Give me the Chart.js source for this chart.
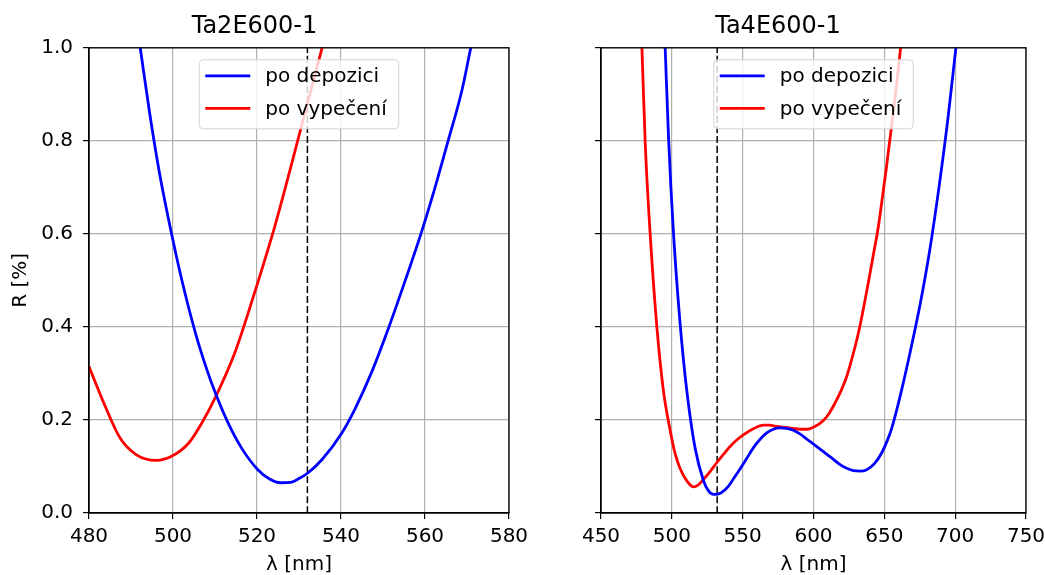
<!DOCTYPE html>
<html>
<head>
<meta charset="utf-8">
<script src="https://cdn.jsdelivr.net/npm/chart.js@4.4.0/dist/chart.umd.min.js"></script>
<style>
    html, body { margin: 0; padding: 0; background: #fff; overflow: hidden; }
    #left { position: absolute; left: 0; top: 0; width: 530px; height: 575px; }
    #right { position: absolute; left: 530px; top: 0; width: 515px; height: 575px; }
</style>
</head>
<body>
<div id="left"><canvas id="chart-ta2"></canvas></div>
<div id="right"><canvas id="chart-ta4"></canvas></div>
<script>

/**
 * Reflectance before / after baking
 *
 */

// Ta2E600-1
var ta2DepWl = [492.2, 494.4, 496.8, 499.9, 502.2, 505.4, 507.7, 510.0, 513.2, 516.3, 520.2, 523.0, 525.6, 528.0, 530.0, 532.1, 535.5, 540.2, 543.4, 547.4, 551.3, 555.3, 559.2, 562.4, 565.5, 568.7, 570.9];
var ta2DepR  = [1.0, 0.862, 0.730, 0.590, 0.497, 0.385, 0.318, 0.260, 0.192, 0.140, 0.093, 0.073, 0.065, 0.066, 0.074, 0.086, 0.115, 0.172, 0.225, 0.305, 0.397, 0.500, 0.605, 0.700, 0.800, 0.905, 1.0];
var ta2BakeWl = [480, 483.5, 487.4, 491.3, 496.0, 499.9, 503.8, 506.9, 510.0, 514.7, 519.4, 524.1, 528.0, 531.5, 535.5];
var ta2BakeR  = [0.315, 0.237, 0.161, 0.125, 0.113, 0.123, 0.151, 0.194, 0.247, 0.344, 0.473, 0.612, 0.742, 0.863, 1.0];

// Ta4E600-1
var ta4DepWl = [495.3, 497.7, 501.2, 505.9, 510.6, 516.4, 522.3, 526.0, 529.5, 533.0, 536.4, 540.0, 543.4, 548.0, 552.8, 557.5, 562.2, 567.0, 571.6, 576.3, 581.0, 585.7, 590.4, 595.6, 600.9, 607.0, 613.0, 618.8, 623.5, 628.2, 633.0, 637.6, 643.0, 648.1, 652.0, 655.2, 661.0, 668.1, 675.1, 682.1, 689.2, 695.1, 700.5];
var ta4DepR  = [1.0, 0.805, 0.600, 0.405, 0.262, 0.140, 0.070, 0.047, 0.040, 0.041, 0.047, 0.058, 0.073, 0.094, 0.117, 0.140, 0.158, 0.172, 0.180, 0.183, 0.182, 0.178, 0.170, 0.158, 0.146, 0.132, 0.118, 0.104, 0.096, 0.091, 0.090, 0.093, 0.106, 0.129, 0.155, 0.182, 0.249, 0.344, 0.446, 0.566, 0.714, 0.853, 1.0];
var ta4BakeWl = [478.9, 481.2, 484.7, 489.4, 494.1, 498.8, 502.3, 505.9, 510.6, 515.3, 518.5, 522.3, 527.0, 531.7, 536.4, 541.1, 545.8, 550.5, 557.5, 564.5, 569.0, 573.9, 580.0, 585.7, 590.0, 595.1, 600.9, 607.0, 611.0, 615.3, 619.5, 623.5, 627.5, 631.7, 635.3, 638.7, 642.3, 645.8, 648.7, 651.6, 654.0, 656.3, 659.0, 661.5];
var ta4BakeR  = [1.0, 0.796, 0.600, 0.401, 0.262, 0.178, 0.128, 0.095, 0.069, 0.056, 0.060, 0.072, 0.089, 0.108, 0.126, 0.143, 0.157, 0.168, 0.181, 0.189, 0.189, 0.186, 0.184, 0.182, 0.180, 0.180, 0.186, 0.199, 0.214, 0.237, 0.263, 0.294, 0.336, 0.387, 0.440, 0.495, 0.556, 0.616, 0.680, 0.746, 0.805, 0.860, 0.930, 1.0];

// laser line
var laserWl = 532;

// ticks
var yTicks = [0, 0.2, 0.4, 0.6, 0.8, 1.0];
var ta2XTicks = [480, 500, 520, 540, 560, 580];
var ta4XTicks = [450, 500, 550, 600, 650, 700, 750];

var FONT = "'DejaVu Sans', sans-serif";

function zip(xs, ys) {
    return xs.map(function (x, i) { return { x: x, y: ys[i] }; });
}

function fixedTicks(values) {
    return function (scale) {
        scale.ticks = values.map(function (v) { return { value: v }; });
    };
}

// matplotlib style box round the plot area
var framePlugin = {
    id: 'frame',
    afterDatasetsDraw: function (chart) {
        var a = chart.chartArea, ctx = chart.ctx;
        ctx.save();
        ctx.strokeStyle = '#000';
        ctx.lineWidth = 1.3;
        ctx.strokeRect(a.left, a.top, a.right - a.left, a.bottom - a.top);
        ctx.restore();
    }
};

// legend inside the plot, upper center
var innerLegend = {
    id: 'innerLegend',
    afterDraw: function (chart) {
        var a = chart.chartArea, ctx = chart.ctx;
        var items = chart.data.datasets.filter(function (d) { return !d.hideLegend; });
        ctx.save();
        ctx.font = '20px ' + FONT;
        var w = 0;
        items.forEach(function (d) { w = Math.max(w, ctx.measureText(d.label).width); });
        var boxW = 66 + w + 12, boxH = 69;
        var x0 = (a.left + a.right) / 2 - boxW / 2, y0 = a.top + 12;

        ctx.beginPath();
        ctx.roundRect(x0, y0, boxW, boxH, 4);
        ctx.fillStyle = 'rgba(255,255,255,0.8)';
        ctx.fill();
        ctx.strokeStyle = '#d4d4d4';
        ctx.lineWidth = 1;
        ctx.stroke();

        items.forEach(function (d, i) {
            var y = y0 + 16 + i * 32.5;
            ctx.beginPath();
            ctx.moveTo(x0 + 6, y);
            ctx.lineTo(x0 + 51, y);
            ctx.strokeStyle = d.borderColor;
            ctx.lineWidth = 2.8;
            ctx.stroke();
            ctx.fillStyle = '#000';
            ctx.textBaseline = 'middle';
            ctx.fillText(d.label, x0 + 66, y + 1);
        });
        ctx.restore();
    }
};

function buildChart(id, o) {
    return new Chart(id, {
        type: 'line',
        data: {
            datasets: [{
                label: 'po depozici',
                data: zip(o.depWl, o.depR),
                borderColor: '#0000ff'
            }, {
                label: 'po vypečení',
                data: zip(o.bakeWl, o.bakeR),
                borderColor: '#ff0000'
            }, {
                label: 'laser',
                hideLegend: true,
                data: [{ x: laserWl, y: 0 }, { x: laserWl, y: 1 }],
                borderColor: '#000',
                borderWidth: 1.5,
                borderDash: [7, 3]
            }]
        },
        options: {
            responsive: true,
            maintainAspectRatio: false,
            animation: false,
            layout: { padding: { left: 0, right: o.padRight, top: 0, bottom: 0 } },
            elements: {
                point: { radius: 0 },
                line: { borderWidth: 2.8, cubicInterpolationMode: 'monotone' }
            },
            plugins: {
                legend: { display: false },
                tooltip: { enabled: false },
                title: {
                    display: true,
                    text: o.title,
                    color: '#000',
                    font: { family: FONT, size: 24, weight: 'normal' },
                    padding: { top: 12, bottom: 7 }
                }
            },
            scales: {
                x: {
                    type: 'linear',
                    min: o.xTicks[0],
                    max: o.xTicks[o.xTicks.length - 1],
                    afterBuildTicks: fixedTicks(o.xTicks),
                    afterFit: function (s) {
                        s.height = 62;
                        s.paddingLeft = 0;
                        s.paddingRight = 0;
                    },
                    grid: { color: '#b0b0b0', lineWidth: 1.2, tickColor: '#000', tickLength: 6 },
                    border: { color: '#000', width: 1.3 },
                    ticks: { color: '#000', font: { family: FONT, size: 20 }, padding: 6, maxRotation: 0 },
                    title: {
                        display: true,
                        text: 'λ [nm]',
                        color: '#000',
                        font: { family: FONT, size: 20 },
                        padding: { top: 0, bottom: -2 }
                    }
                },
                y: {
                    min: 0,
                    max: 1,
                    afterBuildTicks: fixedTicks(yTicks),
                    afterFit: function (s) { s.width = o.yWidth; },
                    grid: { color: '#b0b0b0', lineWidth: 1.2, tickColor: '#000', tickLength: 6 },
                    border: { color: '#000', width: 1.3 },
                    ticks: {
                        display: o.showY,
                        color: '#000',
                        font: { family: FONT, size: 20 },
                        padding: 10,
                        callback: function (v) { return v.toFixed(1); }
                    },
                    title: {
                        display: o.showY,
                        text: 'R [%]',
                        color: '#000',
                        font: { family: FONT, size: 20 },
                        padding: { top: 9, bottom: 0 }
                    }
                }
            }
        },
        plugins: [framePlugin, innerLegend]
    });
}

buildChart('chart-ta2', {
    title: 'Ta2E600-1',
    depWl: ta2DepWl, depR: ta2DepR,
    bakeWl: ta2BakeWl, bakeR: ta2BakeR,
    xTicks: ta2XTicks,
    showY: true,
    yWidth: 89,
    padRight: 21
});

buildChart('chart-ta4', {
    title: 'Ta4E600-1',
    depWl: ta4DepWl, depR: ta4DepR,
    bakeWl: ta4BakeWl, bakeR: ta4BakeR,
    xTicks: ta4XTicks,
    showY: false,
    yWidth: 71,
    padRight: 19
});

</script>
</body>
</html>
